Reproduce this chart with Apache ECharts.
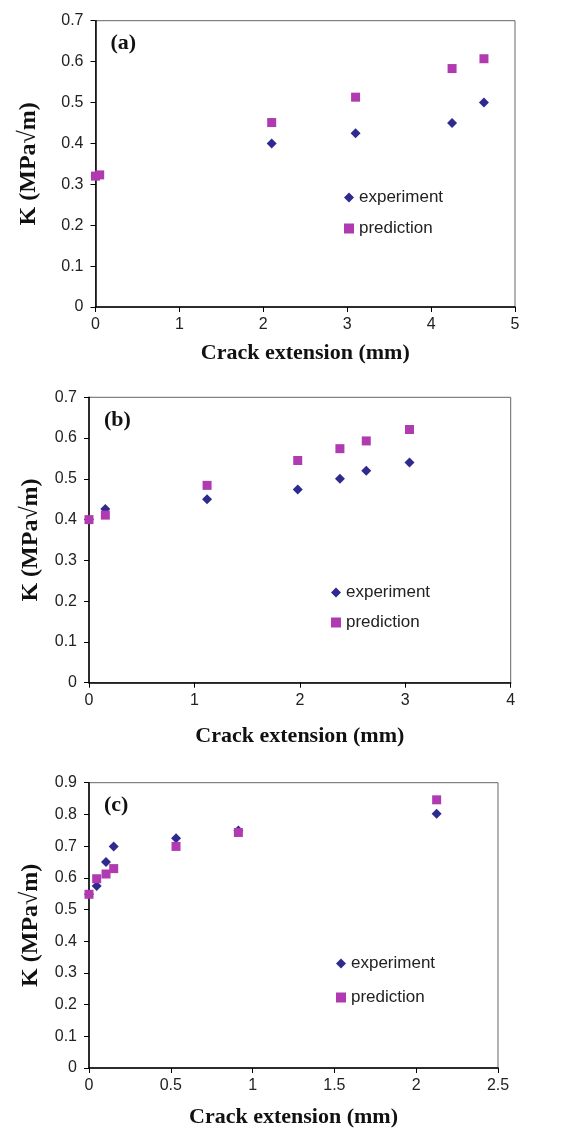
<!DOCTYPE html>
<html>
<head>
<meta charset="utf-8">
<script src="https://cdn.jsdelivr.net/npm/echarts@6/dist/echarts.min.js"></script>
<style>
  html, body { margin: 0; padding: 0; background: #fff; }
  #chart { width: 586px; height: 1129px; }
</style>
</head>
<body>
<div id="chart"></div>
<script>
  // panel (a)
  var expA = [[0, 0.32], [2.1, 0.4], [3.1, 0.425], [4.25, 0.45], [4.63, 0.5]];
  var predA = [[0, 0.32], [0.05, 0.323], [2.1, 0.451], [3.1, 0.513], [4.25, 0.583], [4.63, 0.607]];
  // panel (b)
  var expB = [[0, 0.4], [0.155, 0.426], [1.12, 0.45], [1.98, 0.474], [2.38, 0.5], [2.63, 0.52], [3.04, 0.54]];
  var predB = [[0, 0.4], [0.155, 0.411], [1.12, 0.484], [1.98, 0.545], [2.38, 0.574], [2.63, 0.593], [3.04, 0.621]];
  // panel (c)
  var expC = [[0, 0.548], [0.047, 0.574], [0.104, 0.65], [0.151, 0.699], [0.532, 0.725], [0.913, 0.749], [2.125, 0.802]];
  var predC = [[0, 0.548], [0.047, 0.597], [0.104, 0.612], [0.151, 0.629], [0.532, 0.699], [0.913, 0.743], [2.125, 0.846]];

  var panelLabels = ['(a)', '(b)', '(c)'];
  var xMax = [5, 4, 2.5];
  var xStep = [1, 1, 0.5];
  var yMax = [0.7, 0.7, 0.9];

  var expColor = '#2e2a8e';
  var predColor = '#b03ab0';
  var sans = '"Liberation Sans", Arial, sans-serif';
  var serif = '"Liberation Serif", "Times New Roman", serif';

  var grids = [
    {left: 95.5, top: 20.7, width: 419.5, height: 286.3},
    {left: 89, top: 397.3, width: 421.7, height: 285.4},
    {left: 89, top: 782.7, width: 409, height: 288.6}
  ];
  var xNameGap = [35, 43, 38];
  var yNameGap = [55, 46, 46];
  var legendPos = [
    {left: 339, top: 184, itemGap: 14},
    {left: 326, top: 579, itemGap: 13},
    {left: 331, top: 950, itemGap: 17}
  ];

  var chart = echarts.init(document.getElementById('chart'));

  var xAxes = [], yAxes = [], series = [], legends = [], graphics = [];
  var expAll = [expA, expB, expC];
  var predAll = [predA, predB, predC];

  for (var i = 0; i < 3; i++) {
    grids[i].show = true;
    grids[i].borderColor = '#666';
    grids[i].borderWidth = 1;
    grids[i].containLabel = false;

    xAxes.push({
      gridIndex: i,
      type: 'value',
      min: 0,
      max: xMax[i],
      interval: xStep[i],
      name: 'Crack extension (mm)',
      nameLocation: 'middle',
      nameGap: xNameGap[i],
      nameTextStyle: {fontFamily: serif, fontWeight: 'bold', fontSize: 22, color: '#111'},
      axisLine: {show: true, lineStyle: {color: '#000', width: 1.5}},
      axisTick: {show: true, length: 5, lineStyle: {color: '#000'}},
      axisLabel: {fontFamily: sans, fontSize: 16, color: '#222', margin: 10},
      splitLine: {show: false}
    });
    yAxes.push({
      gridIndex: i,
      type: 'value',
      min: 0,
      max: yMax[i],
      interval: 0.1,
      name: 'K (MPa\u221Am)',
      nameLocation: 'middle',
      nameGap: yNameGap[i],
      nameTextStyle: {fontFamily: serif, fontWeight: 'bold', fontSize: 24, color: '#111'},
      axisLine: {show: true, lineStyle: {color: '#000', width: 1.5}},
      axisTick: {show: true, length: 5, lineStyle: {color: '#000'}},
      axisLabel: {fontFamily: sans, fontSize: 16, color: '#222', margin: 12},
      splitLine: {show: false}
    });
    series.push({
      name: 'experiment',
      type: 'scatter',
      xAxisIndex: i,
      yAxisIndex: i,
      symbol: 'diamond',
      symbolSize: 10,
      itemStyle: {color: expColor, opacity: 1},
      data: expAll[i]
    });
    series.push({
      name: 'prediction',
      type: 'scatter',
      xAxisIndex: i,
      yAxisIndex: i,
      symbol: 'rect',
      symbolSize: 9,
      itemStyle: {color: predColor, opacity: 1},
      data: predAll[i]
    });
    legends.push({
      orient: 'vertical',
      left: legendPos[i].left,
      top: legendPos[i].top,
      itemGap: legendPos[i].itemGap,
      itemWidth: 10,
      itemHeight: 10,
      selectedMode: false,
      textStyle: {fontFamily: sans, fontSize: 17, color: '#222'},
      data: [{name: 'experiment', icon: 'diamond'}, {name: 'prediction', icon: 'rect'}]
    });
    graphics.push({
      type: 'text',
      left: grids[i].left + 15,
      top: grids[i].top + 12,
      style: {text: panelLabels[i], font: 'bold 22px ' + serif, fill: '#111'}
    });
  }

  chart.setOption({
    animation: false,
    grid: grids,
    xAxis: xAxes,
    yAxis: yAxes,
    legend: legends,
    graphic: graphics,
    series: series
  });
</script>
</body>
</html>
